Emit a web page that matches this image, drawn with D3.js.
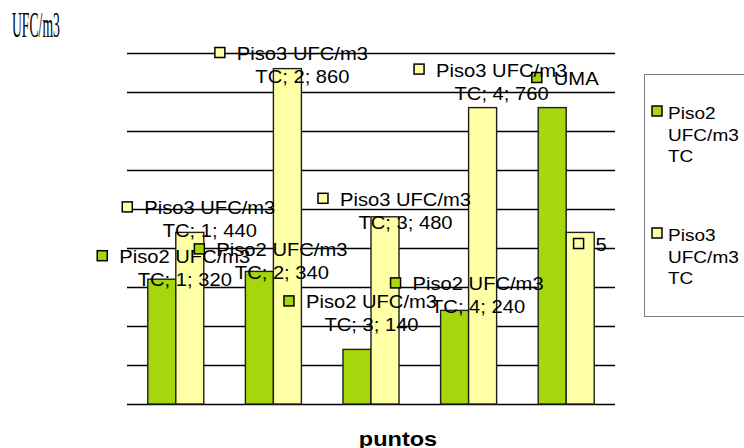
<!DOCTYPE html>
<html>
<head>
<meta charset="utf-8">
<script src="https://cdn.jsdelivr.net/npm/d3@7"></script>
<style>
  html, body { margin: 0; padding: 0; background: #fff; }
  svg { display: block; }
  text { font-family: "Liberation Sans", Arial, sans-serif; fill: #000; }
</style>
</head>
<body>
<svg id="chart" width="744" height="448"></svg>
<script>
// ---- data ----
const categories = ["1", "2", "3", "4", "5"];
const seriesNames = ["Piso2 UFC/m3 TC", "Piso3 UFC/m3 TC"];
const piso2 = [320, 340, 140, 240, 760];
const piso3 = [440, 860, 480, 760, 440];
// custom label text that replaces the default "series; category; value"
const piso2Custom = [null, null, null, null, "UMA"];
const piso3Custom = [null, null, null, null, "5"];
const yTicks = [0, 100, 200, 300, 400, 500, 600, 700, 800, 900];
const yTitle = "UFC/m3";
const xTitle = "puntos";

// ---- layout ----
const plot = { left: 127, right: 615, top: 53, bottom: 404 };
const colors = ["#a6d60c", "#ffffa6"];
const stretch = 1.12;           // horizontal text stretch
// label offsets [dx from bar centre, dy from bar top] for each point
const piso2LabelOffset = [[23, -16], [22.5, -15], [14.5, -41], [23.5, -20], [24, -22.6]];
const piso3LabelOffset = [[20, -18], [15, -8.6], [20.5, -11], [19, -31], [21, 18.6]];

const series = [
  { name: seriesNames[0], values: piso2, custom: piso2Custom, offs: piso2LabelOffset, color: colors[0] },
  { name: seriesNames[1], values: piso3, custom: piso3Custom, offs: piso3LabelOffset, color: colors[1] }
];

const svg = d3.select("#chart");

const y = d3.scaleLinear().domain([0, 900]).range([plot.bottom, plot.top]);
const x0 = d3.scaleBand().domain(categories).range([plot.left, plot.right])
  .paddingInner(0.426).paddingOuter(0.213);
const x1 = d3.scaleBand().domain(seriesNames).range([0, x0.bandwidth()]).padding(0);

// gridlines
const grid = svg.append("g")
  .attr("transform", `translate(${plot.left},0)`)
  .call(d3.axisLeft(y).tickValues(yTicks).tickSize(-(plot.right - plot.left)).tickFormat(""));
grid.select(".domain").remove();
grid.selectAll(".tick line").attr("stroke", "#000").attr("stroke-width", 1.6);

// bars
series.forEach(s => {
  svg.append("g").selectAll("rect")
    .data(s.values.map((v, i) => ({ v, cat: categories[i] })))
    .join("rect")
    .attr("x", d => x0(d.cat) + x1(s.name))
    .attr("y", d => y(d.v))
    .attr("width", x1.bandwidth())
    .attr("height", d => y(0) - y(d.v))
    .attr("fill", s.color)
    .attr("stroke", "#1e1e1e")
    .attr("stroke-width", 1.4);
});

// stretched text helper
function stext(parent, str, x, yPos, size, anchor, weight) {
  const t = parent.append("text")
    .attr("transform", `translate(${x},${yPos}) scale(${stretch},1)`)
    .attr("text-anchor", anchor || "start")
    .style("font-size", size + "px")
    .text(str);
  if (weight) t.style("font-weight", weight);
  return t;
}

// data labels
series.forEach(s => {
  s.values.forEach((v, i) => {
    const cat = categories[i];
    const cx = x0(cat) + x1(s.name) + x1.bandwidth() / 2;
    const ax = cx + s.offs[i][0];
    const ay = y(v) + s.offs[i][1];
    const g = svg.append("g");
    let lines;
    if (s.custom[i]) {
      lines = [s.custom[i]];
    } else {
      const words = s.name.split(" ");
      const last = words.pop();
      lines = [words.join(" "), `${last}; ${cat}; ${v}`];
    }
    const t1 = stext(g, lines[0], ax, ay, 18, "middle");
    const w = t1.node().getComputedTextLength() * stretch;
    if (lines[1]) stext(g, lines[1], ax, ay + 23, 18, "middle");
    g.append("rect")
      .attr("x", ax - w / 2 - 12 - 10)
      .attr("y", ay - 12.5)
      .attr("width", 10).attr("height", 10)
      .attr("fill", s.color)
      .attr("stroke", "#000").attr("stroke-width", 1.5);
  });
});

// legend
const lg = svg.append("g");
lg.append("rect").attr("x", 644.5).attr("y", 74.5).attr("width", 130).attr("height", 242)
  .attr("fill", "#fff").attr("stroke", "#808080").attr("stroke-width", 1);
series.forEach((s, k) => {
  const top = 106 + k * 122;
  lg.append("rect").attr("x", 652).attr("y", top).attr("width", 10).attr("height", 10)
    .attr("fill", s.color).attr("stroke", "#000").attr("stroke-width", 1.5);
  const parts = s.name.split(" ");
  parts.forEach((p, j) => stext(lg, p, 668, top + 13 + j * 21.5, 17, "start"));
});

// axis titles
svg.append("text")
  .attr("transform", `translate(12,37) scale(0.38,1)`)
  .style("font-family", "'Liberation Serif', 'Times New Roman', serif")
  .style("font-size", "36px")
  .text(yTitle);
stext(svg, xTitle, 398, 446, 21, "middle", "bold");
</script>
</body>
</html>
